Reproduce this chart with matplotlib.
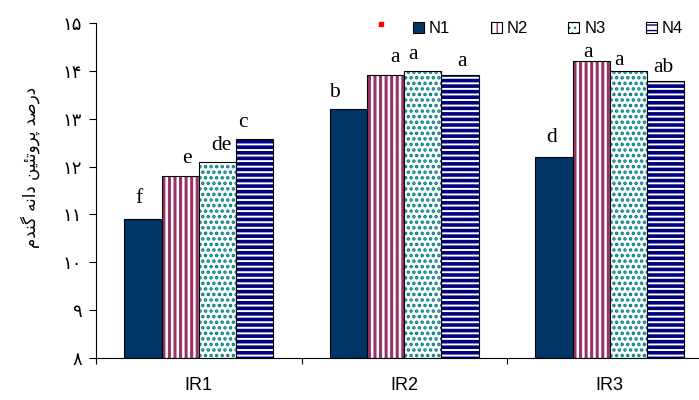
import matplotlib
matplotlib.use('Agg')
import matplotlib.pyplot as plt
from matplotlib.lines import Line2D
from matplotlib.legend_handler import HandlerTuple
import numpy as np

# ---- data ----
categories = ['IR1', 'IR2', 'IR3']
series_names = ['N1', 'N2', 'N3', 'N4']
n1 = [10.90, 13.21, 12.21]
n2 = [11.80, 13.91, 14.21]
n3 = [12.10, 14.00, 14.00]
n4 = [12.58, 13.91, 13.79]
letters_n1 = ['f', 'b', 'd']
letters_n2 = ['e', 'a', 'a']
letters_n3 = ['de', 'a', 'a']
letters_n4 = ['c', 'a', 'ab']
ytick_values = [8, 9, 10, 11, 12, 13, 14, 15]
ytick_labels = ['\u06f8', '\u06f9', '\u06f1\u06f0', '\u06f1\u06f1', '\u06f1\u06f2',
                '\u06f1\u06f3', '\u06f1\u06f4', '\u06f1\u06f5']
# "درصد پروتئین دانه گندم" in shaped, visual (left-to-right) order
ylabel_text = ('\uFEE1\uFEAA\uFEE8\uFB94 \uFEEA\uFEE7\uFE8D\uFEA9 '
               '\uFEE6\uFBFF\uFE8C\uFE97\uFEED\uFEAE\uFB58 \uFEAA\uFEBB\uFEAD\uFEA9')

values = [n1, n2, n3, n4]
letters = [letters_n1, letters_n2, letters_n3, letters_n4]

# ---- styles ----
face_colors = ['#003366', 'white', 'white', 'white']
hatch_colors = ['#003366', '#993366', '#008080', '#000080']
hatches = [None, '|||', '...', '---']
hatch_lws = [1.0, 2.2, 1.7, 2.6]
# label nudges (pixels): dx, baseline gap above bar
dx_px = [[-4.5, -14, -2], [6.5, 9, -3], [4, -10, -9], [-12, 2, -2]]
gap_px = [[16, 12, 14.7], [13, 13.6, 4], [11.7, 11.4, 6], [11.7, 8.7, 9]]

fig = plt.figure(figsize=(6.99, 4.0), dpi=100)
W, H = 699, 400
ax = fig.add_axes([96 / W, 42 / H, 616.5 / W, 335 / H])

x = np.arange(len(categories))
w = 0.181
handles = []
for i, (vals, name) in enumerate(zip(values, series_names)):
    xpos = x + (i - 1.5) * w
    kw = dict(width=w, bottom=8, align='center')
    heights = np.array(vals) - 8
    if hatches[i] is None:
        b = ax.bar(xpos, heights, color=face_colors[i], edgecolor='black', linewidth=0.8, **kw)
        handles.append(b.patches[0])
    else:
        with plt.rc_context({'hatch.linewidth': hatch_lws[i]}):
            hb = ax.bar(xpos, heights, color=face_colors[i], edgecolor=hatch_colors[i],
                        hatch=hatches[i], linewidth=0, **kw)
        for p in hb.patches:
            if hasattr(p, 'set_hatch_linewidth'):
                p.set_hatch_linewidth(hatch_lws[i])
        eb = ax.bar(xpos, heights, fill=False, edgecolor='black', linewidth=0.8, **kw)
        handles.append((hb.patches[0], eb.patches[0]))
    for j, v in enumerate(vals):
        ax.annotate(letters[i][j], (xpos[j], vals[j]),
                    xytext=(dx_px[i][j] * 0.72, gap_px[i][j] * 0.72),
                    textcoords='offset points', ha='center', va='baseline',
                    fontsize=15.5, family='Liberation Serif', color='black')

ax.set_xlim(-0.5, 2.5)
ax.set_ylim(8, 15)
ax.set_yticks(ytick_values)
ax.set_yticklabels(ytick_labels, fontsize=13, family=['DejaVu Sans'])
ax.tick_params(axis='y', direction='out', length=5, width=0.8, pad=5)
ax.set_xticks([-0.5, 0.5, 1.5])
ax.set_xticklabels([])
ax.tick_params(axis='x', which='major', direction='out', length=4, width=0.8)
ax.set_xticks(x, minor=True)
ax.set_xticklabels(categories, minor=True, fontsize=13, family='Liberation Sans')
ax.tick_params(axis='x', which='minor', length=0, pad=14)
for s in ['top', 'right']:
    ax.spines[s].set_visible(False)
for s in ['left', 'bottom']:
    ax.spines[s].set_linewidth(0.8)

fig.text(30 / W, 1 - 167 / H, ylabel_text, rotation=90, ha='center', va='center',
         fontsize=12, family=['DejaVu Sans'])

leg = fig.legend(handles, series_names, loc='center left',
                 bbox_to_anchor=(413 / W, 1 - 28.5 / H), bbox_transform=fig.transFigure,
                 ncol=4, frameon=False, borderpad=0, borderaxespad=0,
                 handlelength=0.66, handleheight=0.66, handletextpad=0.3,
                 columnspacing=2.42, prop={'family': 'Liberation Sans', 'size': 12},
                 handler_map={tuple: HandlerTuple(ndivide=1)})
red = Line2D([], [], marker='s', ls='none', color='red', ms=2.6)
leg2 = fig.legend([red], [' '], loc='center',
                  bbox_to_anchor=(381 / W, 1 - 24 / H), bbox_transform=fig.transFigure,
                  frameon=False, borderpad=0, borderaxespad=0, handlelength=0.3,
                  handletextpad=0, prop={'size': 1})

fig.savefig('out.png', dpi=100)
